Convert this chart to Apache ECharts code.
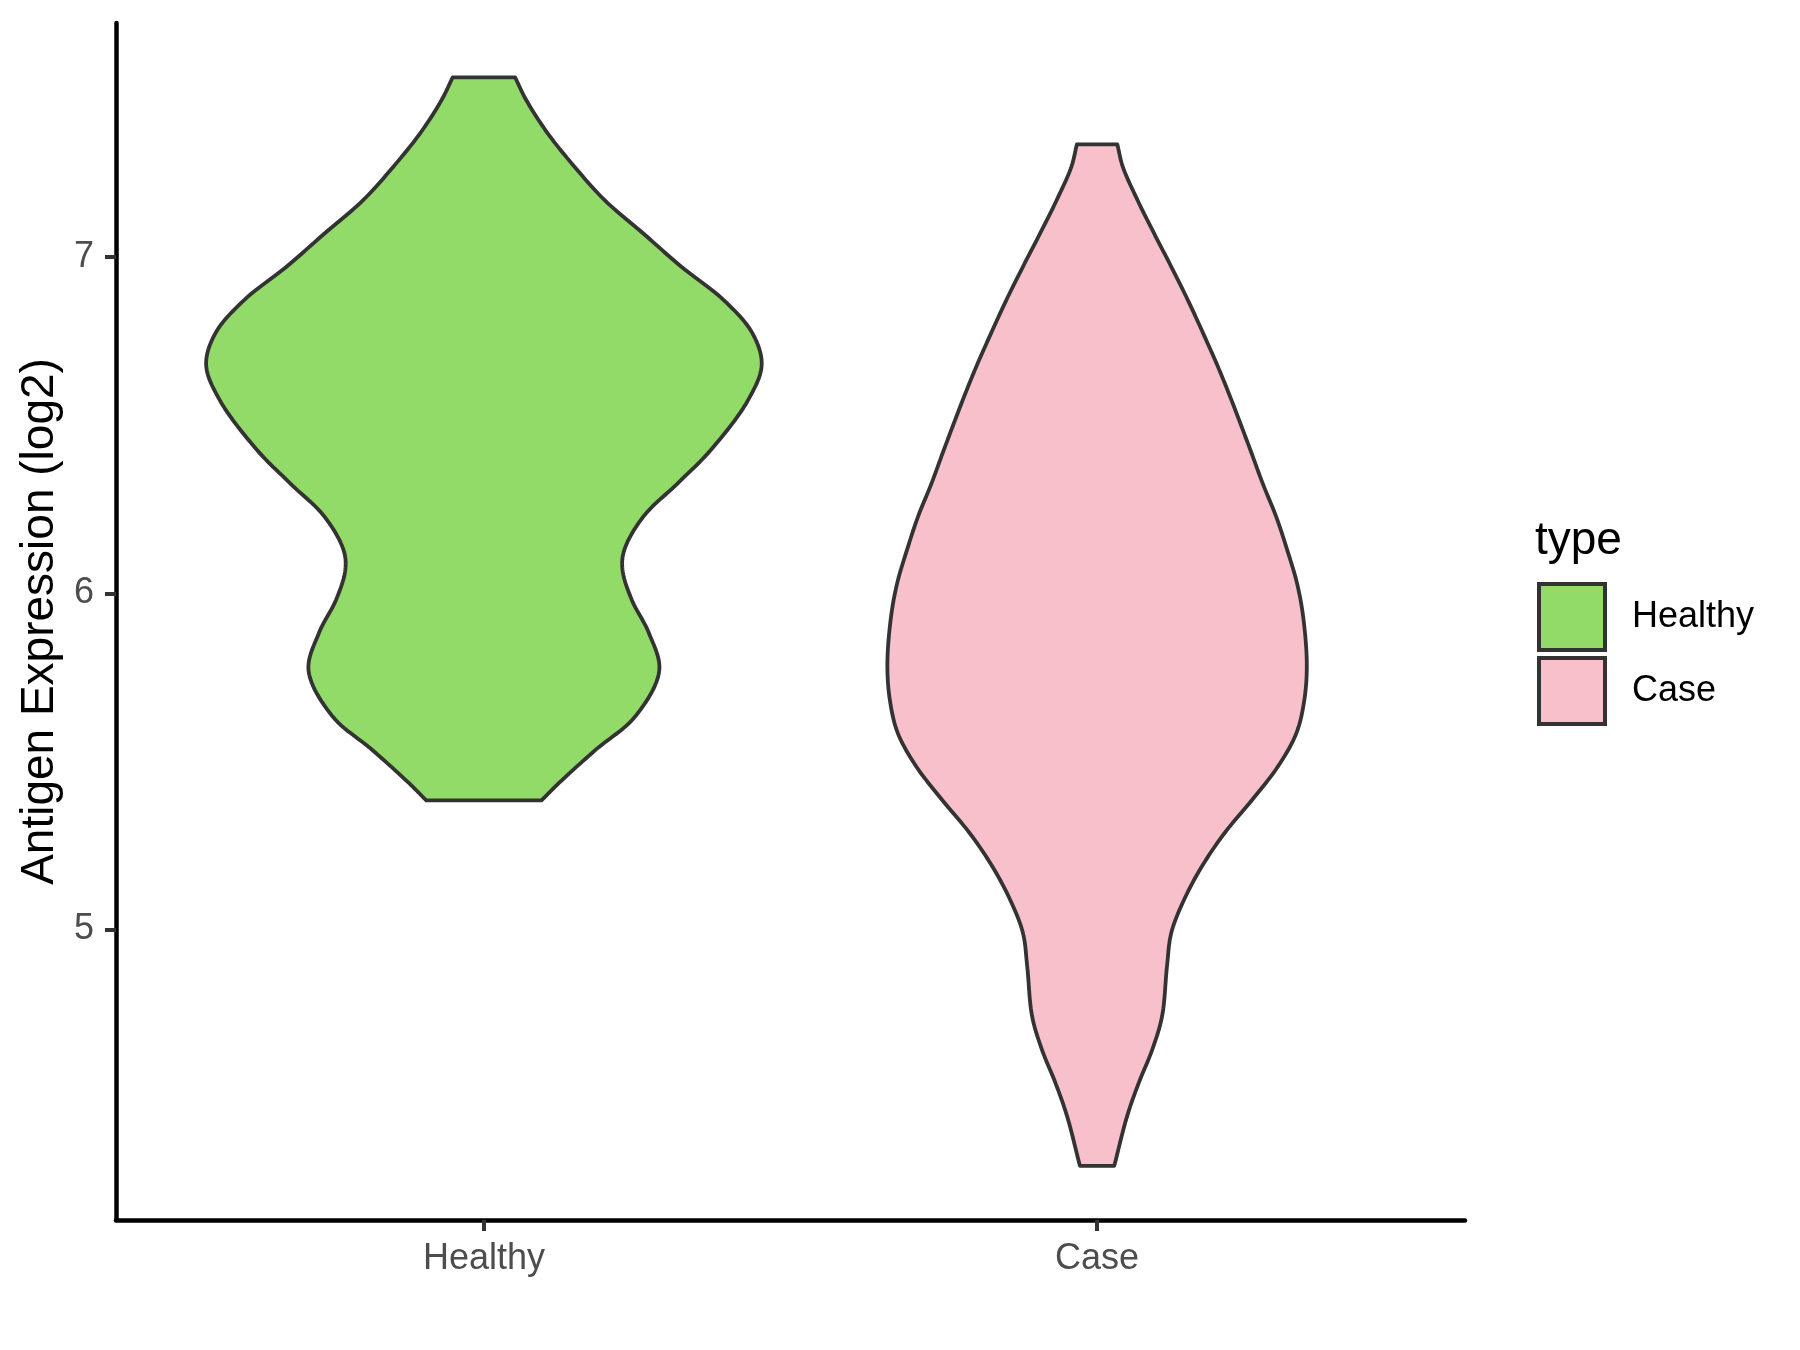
<!DOCTYPE html>
<html>
<head>
<meta charset="utf-8">
<script src="https://cdn.jsdelivr.net/npm/echarts@6/dist/echarts.min.js"></script>
<style>
html,body{margin:0;padding:0;background:#fff;}
#chart{width:1800px;height:1350px;}
</style>
</head>
<body>
<div id="chart"></div>
<script>
// ---- data ----
const categories = ['Healthy', 'Case'];
const yTicks = [5, 6, 7];

// Healthy violin outline: expression value (log2) and half-width (category units)
const healthyY = [5.384, 5.435, 5.534, 5.634, 5.770, 5.882, 5.981, 6.070, 6.129, 6.228, 6.327, 6.426, 6.575, 6.679, 6.773, 6.872, 6.971, 7.070, 7.169, 7.268, 7.368, 7.467, 7.534];
const healthyHalfWidth = [0.094, 0.122, 0.182, 0.247, 0.286, 0.269, 0.241, 0.226, 0.229, 0.260, 0.316, 0.370, 0.431, 0.453, 0.438, 0.391, 0.322, 0.260, 0.197, 0.148, 0.104, 0.069, 0.051];

// Case violin outline
const caseY = [4.297, 4.445, 4.544, 4.643, 4.742, 4.891, 4.990, 5.089, 5.188, 5.287, 5.386, 5.485, 5.584, 5.683, 5.790, 5.931, 6.030, 6.129, 6.228, 6.327, 6.426, 6.575, 6.674, 6.773, 6.872, 6.971, 7.070, 7.169, 7.268, 7.335];
const caseHalfWidth = [0.028, 0.049, 0.068, 0.090, 0.106, 0.114, 0.121, 0.142, 0.171, 0.208, 0.253, 0.295, 0.325, 0.338, 0.342, 0.336, 0.326, 0.310, 0.292, 0.270, 0.250, 0.219, 0.197, 0.173, 0.148, 0.121, 0.093, 0.066, 0.042, 0.033];

const colors = ['#93DB68', '#F8C0CB'];
const FONT = 'Liberation Sans, Arial, sans-serif';

// centripetal Catmull-Rom smoothing of a pixel polyline (rendering only)
function smoothPts(pts, steps) {
  const out = [];
  const n = pts.length;
  const d = (a, b) => Math.pow(Math.hypot(b[0] - a[0], b[1] - a[1]) || 1e-6, 0.5);
  for (let i = 0; i < n - 1; i++) {
    const p1 = pts[i], p2 = pts[i + 1];
    const p0 = i > 0 ? pts[i - 1] : [2 * p1[0] - p2[0], 2 * p1[1] - p2[1]];
    const p3 = i < n - 2 ? pts[i + 2] : [2 * p2[0] - p1[0], 2 * p2[1] - p1[1]];
    const t0 = 0, t1 = t0 + d(p0, p1), t2 = t1 + d(p1, p2), t3 = t2 + d(p2, p3);
    for (let s = 0; s < steps; s++) {
      const t = t1 + (t2 - t1) * s / steps;
      const lerp = (a, b, ta, tb) => [(tb - t) / (tb - ta) * a[0] + (t - ta) / (tb - ta) * b[0], (tb - t) / (tb - ta) * a[1] + (t - ta) / (tb - ta) * b[1]];
      const A1 = lerp(p0, p1, t0, t1), A2 = lerp(p1, p2, t1, t2), A3 = lerp(p2, p3, t2, t3);
      const B1 = lerp(A1, A2, t0, t2), B2 = lerp(A2, A3, t1, t3);
      out.push(lerp(B1, B2, t1, t2));
    }
  }
  out.push(pts[n - 1]);
  return out;
}

function violinRenderer(ys, ws, color) {
  return function (params, api) {
    const cx = api.value(0);
    const right = [], left = [];
    for (let i = 0; i < ys.length; i++) {
      const p = api.coord([cx, ys[i]]);
      const w = api.size([ws[i], 0])[0];
      right.push([p[0] + w, p[1]]);
      left.push([p[0] - w, p[1]]);
    }
    const pts = smoothPts(right, 12).concat(smoothPts(left, 12).reverse());
    return {
      type: 'polygon',
      shape: { points: pts },
      style: { fill: color, stroke: '#333333', lineWidth: 3.8, lineJoin: 'round' }
    };
  };
}

const chart = echarts.init(document.getElementById('chart'), null, { renderer: 'canvas' });
chart.setOption({
  backgroundColor: '#ffffff',
  animation: false,
  grid: { left: 116, right: 335, top: 23, bottom: 130, containLabel: false },
  xAxis: {
    type: 'value', min: 0.4, max: 2.6,
    splitLine: { show: false },
    axisLine: { show: true, onZero: false, lineStyle: { color: '#000', width: 4.5 } },
    axisTick: { show: true, customValues: [1, 2], length: 11, lineStyle: { color: '#333333', width: 4 } },
    axisLabel: {
      customValues: [1, 2], margin: 21,
      formatter: v => categories[Math.round(v) - 1],
      color: '#4D4D4D', fontSize: 36, fontFamily: FONT
    }
  },
  yAxis: {
    type: 'value', min: 4.136, max: 7.696,
    splitLine: { show: false },
    name: 'Antigen Expression (log2)', nameLocation: 'middle', nameGap: 52,
    nameTextStyle: { fontSize: 46, color: '#000', fontFamily: FONT },
    axisLine: { show: true, onZero: false, lineStyle: { color: '#000', width: 4.5 } },
    axisTick: { show: true, customValues: yTicks, length: 11, lineStyle: { color: '#333333', width: 4 } },
    axisLabel: { customValues: yTicks, margin: 22, color: '#4D4D4D', fontSize: 36, fontFamily: FONT }
  },
  legend: {
    orient: 'vertical', left: 1532, top: 577,
    icon: 'rect', itemWidth: 66, itemHeight: 66, itemGap: 4,
    itemStyle: { borderColor: '#333333', borderWidth: 4 },
    textStyle: { fontSize: 36, color: '#000', fontFamily: FONT, padding: [0, 0, 0, 22] },
    data: categories
  },
  graphic: [{
    type: 'text', left: 1535, top: 518,
    style: { text: 'type', fontSize: 46, fill: '#000', fontFamily: FONT }
  }],
  series: [
    {
      name: 'Healthy', type: 'custom', itemStyle: { color: colors[0] },
      renderItem: violinRenderer(healthyY, healthyHalfWidth, colors[0]),
      data: [[1]], encode: { x: 0 }
    },
    {
      name: 'Case', type: 'custom', itemStyle: { color: colors[1] },
      renderItem: violinRenderer(caseY, caseHalfWidth, colors[1]),
      data: [[2]], encode: { x: 0 }
    }
  ]
});
</script>
</body>
</html>
